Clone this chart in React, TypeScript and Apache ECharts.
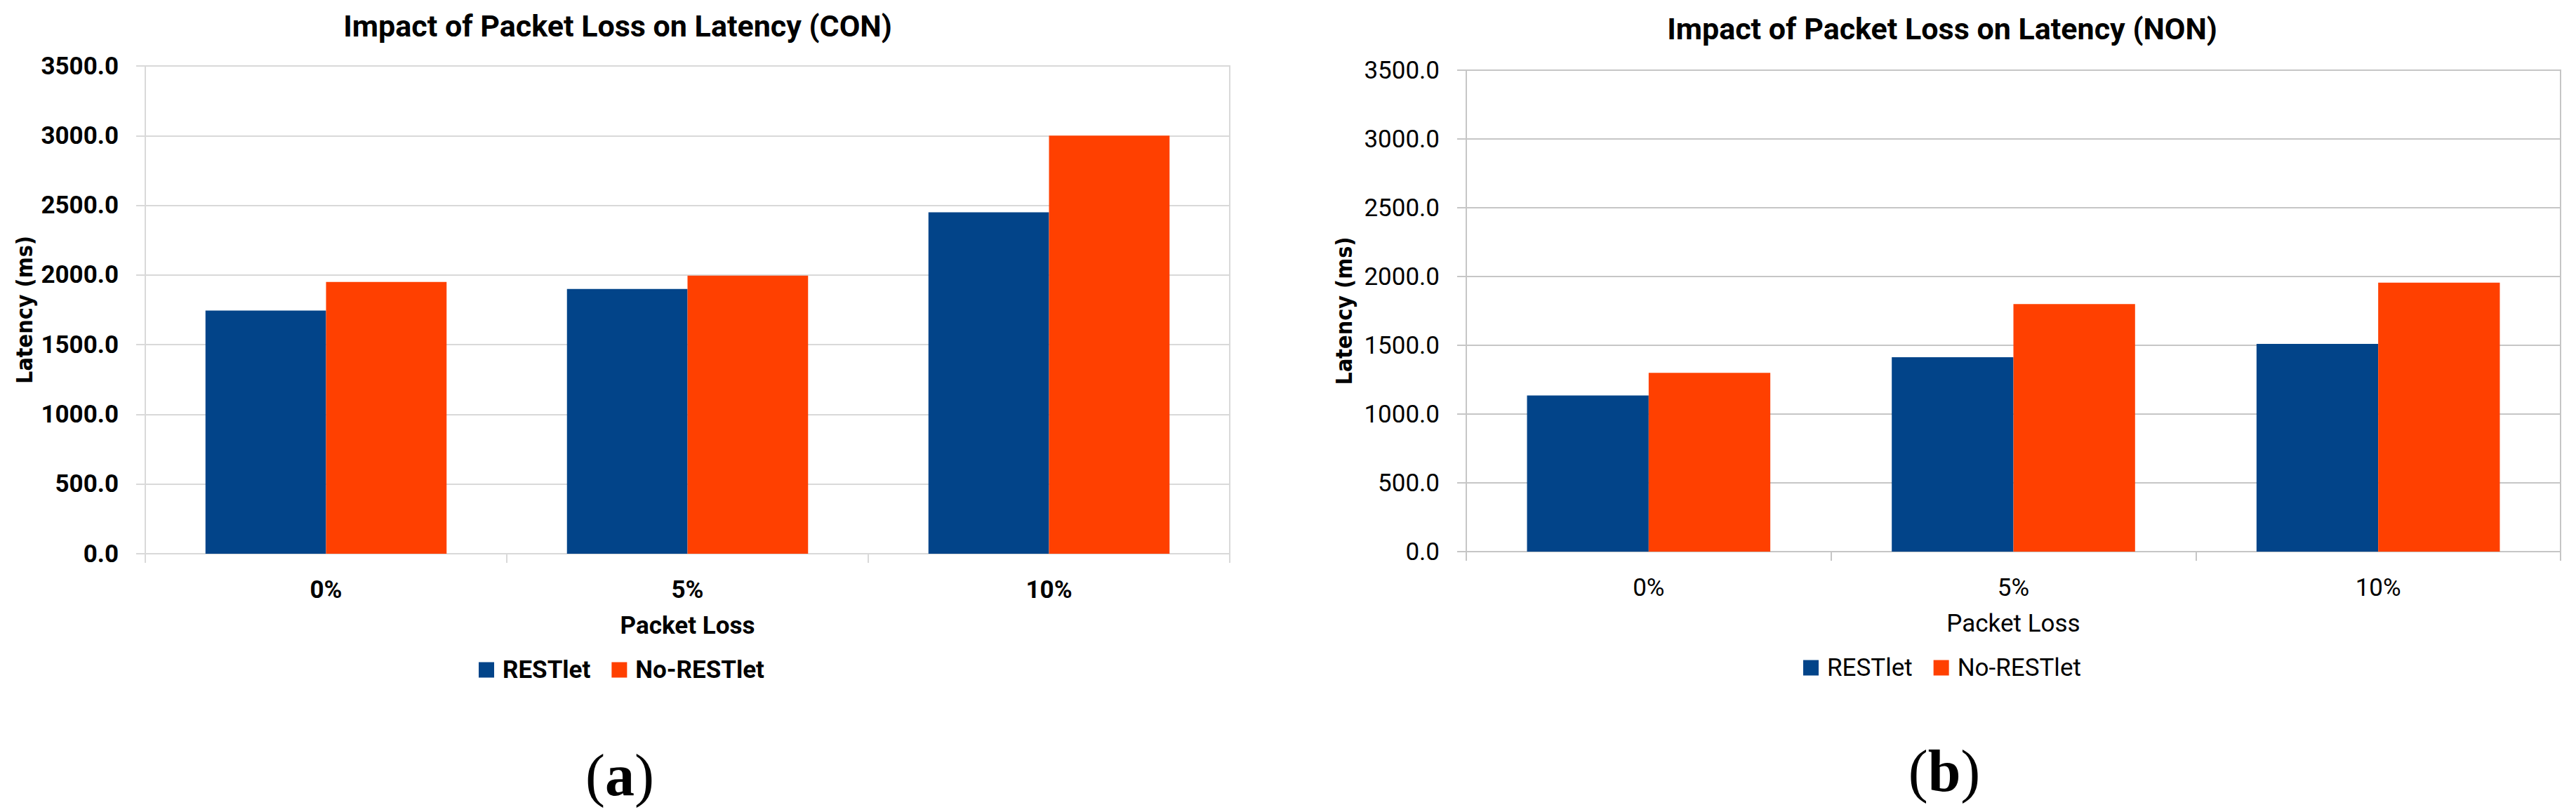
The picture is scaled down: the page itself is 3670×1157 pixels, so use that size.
import React, { useEffect, useRef } from "react";
import * as echarts from "echarts";

// ---- data ----
const categories = ["0%", "5%", "10%"];
const seriesNames = ["RESTlet", "No-RESTlet"];
const conRestlet = [1745, 1900, 2450];
const conNoRestlet = [1950, 1995, 3000];
const nonRestlet = [1135, 1413, 1510];
const nonNoRestlet = [1300, 1800, 1955];
const yMin = 0;
const yMax = 3500;
const yStep = 500;
const titles = ["Impact of Packet Loss on Latency (CON)", "Impact of Packet Loss on Latency (NON)"];
const xTitle = "Packet Loss";
const yTitle = "Latency (ms)";
const panelTags = ["a", "b"];

const BLUE = "#024489";
const ORANGE = "#ff4000";
const FONT = "Roboto, 'Liberation Sans', sans-serif";
const YFONT = "'DejaVu Sans Condensed', 'Liberation Sans', sans-serif";

function axisPair(idx: number, weight: string, lineColor: string, nameGapY: number) {
  const labelStyle = { fontFamily: FONT, fontSize: 35, fontWeight: weight, color: "#000" };
  const x = {
    gridIndex: idx,
    type: "category",
    data: categories,
    axisLine: { lineStyle: { color: lineColor, width: 2 } },
    axisTick: { show: true, length: 13, lineStyle: { color: lineColor, width: 2 } },
    axisLabel: { ...labelStyle, margin: 34 },
    name: xTitle,
    nameLocation: "middle",
    nameGap: 85,
    nameTextStyle: labelStyle,
  };
  const y = {
    gridIndex: idx,
    type: "value",
    min: yMin,
    max: yMax,
    interval: yStep,
    axisLine: { show: true, lineStyle: { color: lineColor, width: 2 } },
    axisTick: { show: true, length: 13, lineStyle: { color: lineColor, width: 2 } },
    splitLine: { lineStyle: { color: lineColor, width: 2 } },
    axisLabel: { ...labelStyle, margin: 38, formatter: (v: number) => v.toFixed(1) },
    name: yTitle,
    nameLocation: "middle",
    nameRotate: 90,
    nameGap: nameGapY,
    nameTextStyle: { fontFamily: YFONT, fontSize: 32, fontWeight: "bold", color: "#000" },
  };
  return { x, y };
}

export default function App() {
  const ref = useRef<HTMLDivElement>(null);
  useEffect(() => {
    if (!ref.current) return;
    const chart = echarts.init(ref.current, undefined, { renderer: "svg" });
    const a0 = axisPair(0, "bold", "#d9d9d9", 156);
    const a1 = axisPair(1, "normal", "#c6c6c6", 158);
    const legendBase = (left: number, top: number, weight: string) => ({
      data: seriesNames,
      left,
      top,
      padding: 0,
      icon: "rect",
      itemWidth: 22,
      itemHeight: 22,
      itemGap: 30,
      selectedMode: false,
      textStyle: { fontFamily: FONT, fontSize: 35, fontWeight: weight, color: "#000", padding: [0, 0, 0, 7] },
    });
    const barBase = { type: "bar", barGap: "0%", barCategoryGap: "33.3%" };
    chart.setOption({
      animation: false,
      backgroundColor: "#ffffff",
      title: [
        {
          text: titles[0],
          left: 880,
          top: 37,
          padding: 0,
          textAlign: "center",
          textVerticalAlign: "middle",
          textStyle: { fontFamily: FONT, fontSize: 43, fontWeight: "bold", color: "#000" },
        },
        {
          text: titles[1],
          left: 2767,
          top: 41,
          padding: 0,
          textAlign: "center",
          textVerticalAlign: "middle",
          textStyle: { fontFamily: FONT, fontSize: 43, fontWeight: "bold", color: "#000" },
        },
      ],
      legend: [legendBase(682, 937, "bold"), legendBase(2569, 934, "normal")],
      grid: [
        { left: 207, top: 94, width: 1545, height: 695, show: true, borderColor: "#d9d9d9", borderWidth: 2, backgroundColor: "transparent" },
        { left: 2089, top: 100, width: 1559, height: 686, show: true, borderColor: "#c6c6c6", borderWidth: 2, backgroundColor: "transparent" },
      ],
      xAxis: [a0.x, a1.x],
      yAxis: [a0.y, a1.y],
      series: [
        { ...barBase, name: seriesNames[0], xAxisIndex: 0, yAxisIndex: 0, data: conRestlet, itemStyle: { color: BLUE } },
        { ...barBase, name: seriesNames[1], xAxisIndex: 0, yAxisIndex: 0, data: conNoRestlet, itemStyle: { color: ORANGE } },
        { ...barBase, name: seriesNames[0], xAxisIndex: 1, yAxisIndex: 1, data: nonRestlet, itemStyle: { color: BLUE } },
        { ...barBase, name: seriesNames[1], xAxisIndex: 1, yAxisIndex: 1, data: nonNoRestlet, itemStyle: { color: ORANGE } },
      ],
      graphic: [
        {
          type: "text",
          x: 883,
          y: 1104,
          style: {
            text: "{p|(}{b|" + panelTags[0] + "}{p|)}",
            align: "center",
            verticalAlign: "middle",
            rich: {
              p: { fontFamily: "'Liberation Serif', serif", fontSize: 84, fill: "#000" },
              b: { fontFamily: "'Liberation Serif', serif", fontSize: 84, fontWeight: "bold", fill: "#000" },
            },
          },
        },
        {
          type: "text",
          x: 2770,
          y: 1098,
          style: {
            text: "{p|(}{b|" + panelTags[1] + "}{p|)}",
            align: "center",
            verticalAlign: "middle",
            rich: {
              p: { fontFamily: "'Liberation Serif', serif", fontSize: 84, fill: "#000" },
              b: { fontFamily: "'Liberation Serif', serif", fontSize: 84, fontWeight: "bold", fill: "#000" },
            },
          },
        },
      ],
    });
    return () => chart.dispose();
  }, []);
  return <div ref={ref} style={{ position: "absolute", left: 0, top: 0, width: 3670, height: 1157 }} />;
}
